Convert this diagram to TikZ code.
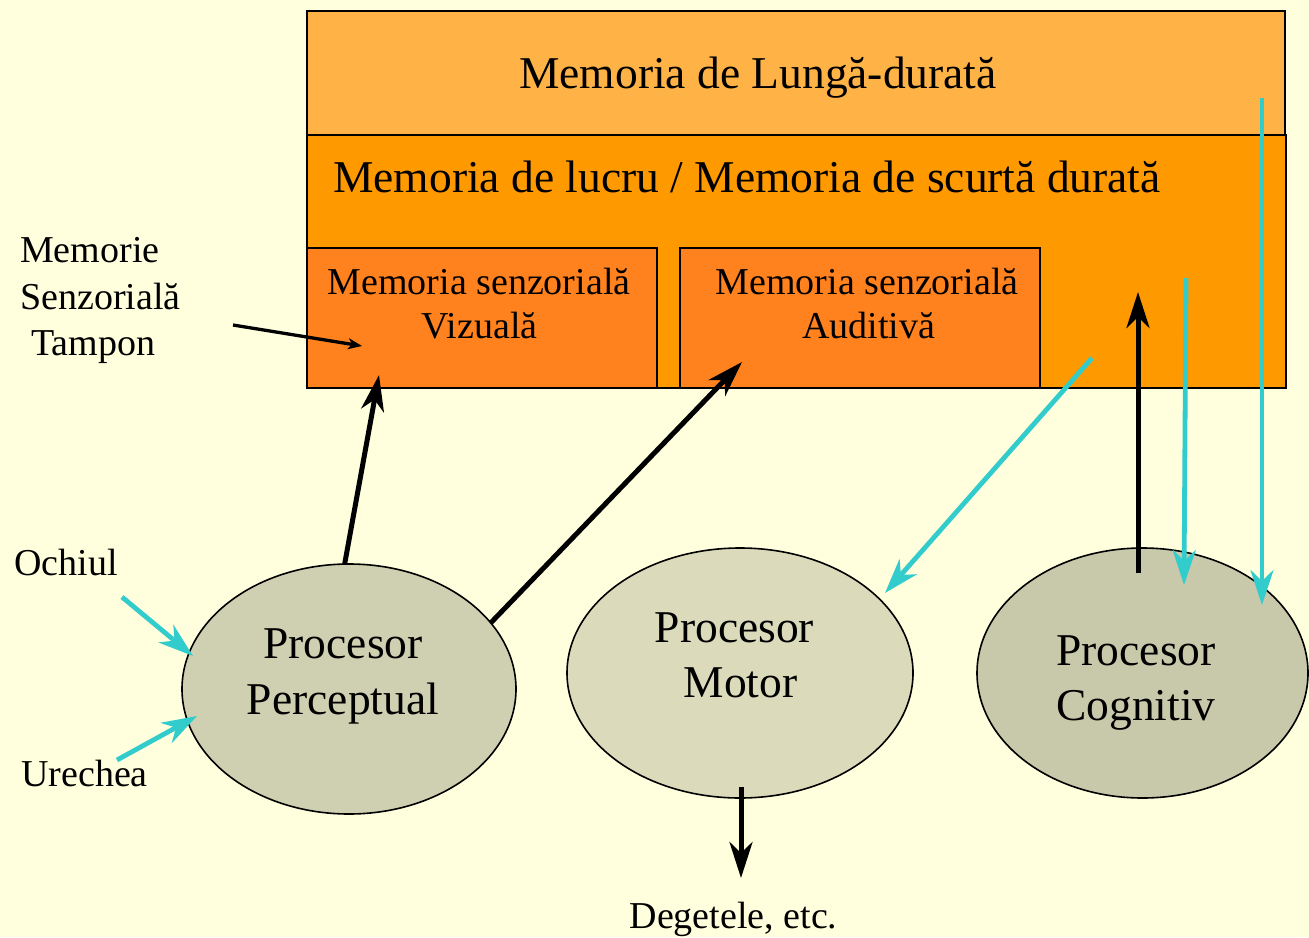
\documentclass[tikz,border=0pt]{standalone}
\usepackage{fontspec}
\setmainfont{Liberation Serif}
\usetikzlibrary{arrows.meta,shapes.geometric}
\definecolor{bgc}{HTML}{FFFFDD}
\definecolor{ltmc}{HTML}{FFB245}
\definecolor{wmc}{HTML}{FF9900}
\definecolor{senc}{HTML}{FF821E}
\definecolor{percc}{HTML}{CFCFB1}
\definecolor{motc}{HTML}{DBDBBC}
\definecolor{cogc}{HTML}{C8C8AA}
\definecolor{cyanc}{HTML}{33CCCC}
\newcommand\fbig{\fontsize{45.5}{55}\selectfont}
\newcommand\fmid{\fontsize{38}{46}\selectfont}
\begin{document}
\begin{tikzpicture}[x=1pt,y=-1pt,
  memrect/.style={draw=black, line width=2pt, anchor=north west, inner sep=0pt, outer sep=0pt},
  senrect/.style={draw=black, line width=1.5pt, fill=senc, anchor=north west, inner sep=0pt, outer sep=0pt},
  proc/.style={ellipse, draw=black, line width=1.6pt, inner sep=0pt, outer sep=0pt},
  bigtxt/.style={anchor=base, font=\fbig, inner sep=0pt},
  midtxt/.style={anchor=base, font=\fmid, inner sep=0pt},
  lefttxt/.style={anchor=base west, font=\fmid, inner sep=0pt},
  blkarrow/.style={draw=black, line width=5pt, -{Stealth[length=36pt, width=23pt, inset=11pt]}},
  thinarrow/.style={draw=black, line width=3.3pt, -{Stealth[length=14pt, width=11pt, inset=4pt]}},
  cyarrow/.style={draw=cyanc, line width=4.8pt, -{Stealth[length=35pt, width=23pt, inset=11pt]}}
]
\useasboundingbox (0,0) rectangle (1309,937);
\fill[bgc] (0,0) rectangle (1309,937);

% memory boxes
\node[memrect, fill=wmc, minimum width=979pt, minimum height=253pt] (wm) at (307,135) {};
\node[memrect, fill=ltmc, minimum width=978pt, minimum height=124pt] (ltm) at (307,11) {};
\node[senrect, minimum width=350pt, minimum height=140pt] (vis) at (307,248) {};
\node[senrect, minimum width=360pt, minimum height=140pt] (aud) at (680,248) {};

\node[bigtxt] (tltm) at (758,88) {Memoria de Lungă-durată};
\node[bigtxt, anchor=base west] (twm) at (333,192) {Memoria de lucru / Memoria de scurtă durată};
\node[midtxt] (tvis1) at (479,294) {Memoria senzorială};
\node[midtxt] (tvis2) at (479.5,338) {Vizuală};
\node[midtxt] (taud1) at (867,294) {Memoria senzorială};
\node[midtxt] (taud2) at (868.5,338) {Auditivă};

% processors
\node[proc, fill=percc, minimum width=334pt, minimum height=250pt] (perc) at (349,689) {};
\node[proc, fill=motc, minimum width=346pt, minimum height=250pt] (mot) at (740,673) {};
\node[proc, fill=cogc, minimum width=331pt, minimum height=250pt] (cog) at (1142.5,673) {};

\node[bigtxt] (tperc1) at (343,658) {Procesor};
\node[bigtxt] (tperc2) at (343,714) {Perceptual};
\node[bigtxt] (tmot1) at (734.5,642) {Procesor};
\node[bigtxt] (tmot2) at (740.5,697) {Motor};
\node[bigtxt] (tcog1) at (1136,665) {Procesor};
\node[bigtxt] (tcog2) at (1136,720) {Cognitiv};

% side labels
\node[lefttxt] (lmem1) at (20,262) {Memorie};
\node[lefttxt] (lmem2) at (20,309) {Senzorială};
\node[lefttxt] (lmem3) at (31,355) {Tampon};
\node[lefttxt] (lochi) at (14,575) {Ochiul};
\node[lefttxt] (lurec) at (21,786) {Urechea};
\node[midtxt] (ldeg) at (733.5,928) {Degetele, etc.};

% connector end points
\coordinate (tampS) at (233,325);
\coordinate (tampT) at (362,346);
\coordinate (visT) at (379,375);
\coordinate (audT) at (742,362);
\coordinate (cogS) at (1138,573);
\coordinate (cogT) at (1138,292);
\coordinate (motS) at (741,787);
\coordinate (motT) at (741,878);
\coordinate (wmS) at (1092,358);
\coordinate (motIn) at (885,593);
\coordinate (wmS2) at (1186,278);
\coordinate (cogIn1) at (1184,585);
\coordinate (ltmS) at (1262,98);
\coordinate (cogIn2) at (1262,605);
\coordinate (ochS) at (122,597);
\coordinate (ochT) at (193,656);
\coordinate (urS) at (117,760);
\coordinate (urT) at (197,716);

% black arrows
\draw[thinarrow] (tampS) -- (tampT);
\draw[blkarrow] (perc.92) -- (visT);
\draw[blkarrow] (perc.25) -- (audT);
\draw[blkarrow] (cogS) -- (cogT);
\draw[blkarrow] (motS) -- (motT);

% cyan arrows
\draw[cyarrow] (wmS) -- (motIn);
\draw[cyarrow] (wmS2) -- (cogIn1);
\draw[cyarrow] (ltmS) -- (cogIn2);
\draw[cyarrow] (ochS) -- (ochT);
\draw[cyarrow] (urS) -- (urT);
\end{tikzpicture}
\end{document}
